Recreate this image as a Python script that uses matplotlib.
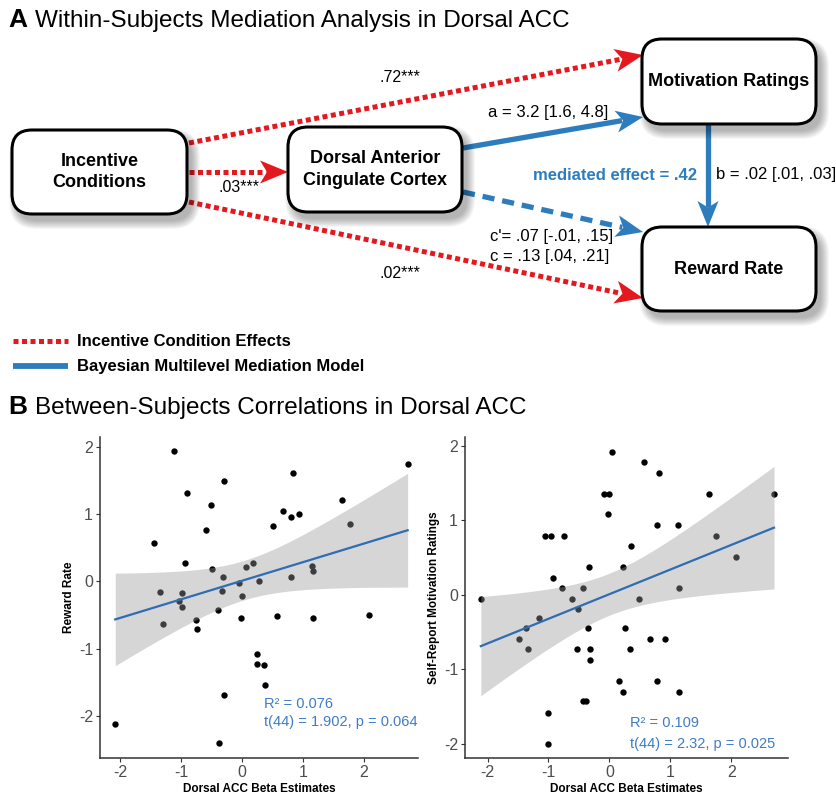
import numpy as np
import matplotlib.pyplot as plt
from matplotlib.patches import FancyBboxPatch, Polygon

plt.rcParams['font.family'] = ['Liberation Sans', 'DejaVu Sans']
plt.rcParams['axes.unicode_minus'] = False

# ---- panel B data ----
acc_left = [-1.12, 2.72, 0.84, -0.30, -0.90, -0.50, 1.64, 0.68, 0.93, 0.80,
            1.77, 0.51, -0.59, -1.44, -0.93, 0.18, 0.06, 1.15, 1.16, -0.49,
            -0.31, 0.80, -0.05, 0.28, -1.34, -0.98, -0.32, 0.00, -1.04, -0.98,
            -0.40, -1.30, -0.75, -0.73, -0.01, 0.58, 1.16, 2.09, 0.24, 0.24,
            0.36, 0.38, -0.30, -2.08, -0.37]
reward_rate = [1.94, 1.75, 1.62, 1.49, 1.31, 1.14, 1.21, 1.05, 1.00, 0.96,
               0.86, 0.83, 0.76, 0.57, 0.27, 0.28, 0.22, 0.23, 0.16, 0.19,
               0.06, 0.06, -0.03, 0.00, -0.16, -0.17, -0.15, -0.22, -0.29, -0.38,
               -0.42, -0.63, -0.58, -0.71, -0.55, -0.52, -0.55, -0.50, -1.08, -1.23,
               -1.25, -1.54, -1.69, -2.12, -2.41]

acc_right = [0.04, 0.56, 0.81, -0.09, -0.01, 1.63, 2.70, -0.03, 0.78, 1.12,
             -1.06, -0.96, -0.75, 1.75, 0.36, 2.08, -0.34, 0.22, -0.93, -0.78,
             -0.43, 1.14, -2.11, -0.61, 0.49, -0.51, -1.15, -1.37, -0.35, 0.26,
             -1.48, 0.66, 0.91, -1.33, -0.53, -0.32, 0.33, -0.32, 0.16, 0.78,
             0.22, 1.14, -0.43, -0.38, -1.01, -1.01]
motivation = [1.92, 1.78, 1.64, 1.36, 1.36, 1.36, 1.36, 1.08, 0.94, 0.94,
              0.79, 0.79, 0.79, 0.79, 0.65, 0.51, 0.37, 0.37, 0.23, 0.09,
              0.09, 0.09, -0.05, -0.05, -0.05, -0.19, -0.31, -0.45, -0.45, -0.45,
              -0.59, -0.59, -0.59, -0.73, -0.73, -0.73, -0.73, -0.87, -1.15, -1.15,
              -1.30, -1.30, -1.43, -1.43, -1.58, -2.00]

ticks = [-2, -1, 0, 1, 2]
stats_left = ['R\u00b2 = 0.076', 't(44) = 1.902, p = 0.064']
stats_right = ['R\u00b2 = 0.109', 't(44) = 2.32, p = 0.025']

RED = '#E3191F'
BLUE = '#2D7DBE'
LINE_BLUE = '#2E6DB4'
TXT_BLUE = '#3F7CC4'

fig = plt.figure(figsize=(8.36, 7.96), dpi=100)

# ---- panel A: diagram drawn in pixel coordinates ----
dia = fig.add_axes([0, 0, 1, 1])
dia.set_xlim(0, 836)
dia.set_ylim(796, 0)
dia.axis('off')


def box(x, y, w, h, label):
    for k in range(9):
        dia.add_patch(FancyBboxPatch((x + 5 - k, y + 7 - k), w + 2 * k, h + 2 * k,
                                     boxstyle='round,pad=0,rounding_size=%d' % (20 + k),
                                     fc='black', ec='none', alpha=0.035, zorder=4))
    dia.add_patch(FancyBboxPatch((x, y), w, h, boxstyle='round,pad=0,rounding_size=20',
                                 fc='white', ec='black', lw=2.2, zorder=5))
    dia.text(x + w / 2, y + h / 2, label, ha='center', va='center', fontsize=13,
             fontweight='bold', linespacing=1.35, zorder=6)


def arrow(tail, tip, color, ls, lw, length, half, notch=0.25):
    tail = np.array(tail, float)
    tip = np.array(tip, float)
    d = (tip - tail) / np.hypot(*(tip - tail))
    n = np.array([-d[1], d[0]])
    base = tip - d * length
    inner = tip - d * length * (1 - notch)
    stop = inner - d * 1.0
    dia.plot([tail[0], stop[0]], [tail[1], stop[1]], color=color, lw=lw, ls=ls,
             solid_capstyle='butt', dash_capstyle='butt', zorder=2)
    dia.add_patch(Polygon([tip, base + n * half, inner, base - n * half], closed=True,
                          fc=color, ec='none', zorder=3))


dotted = (0, (1.0, 0.7))
dashed = (0, (2.3, 1.5))

arrow((189, 143), (643, 55), RED, dotted, 3.6, 28, 11.5)
arrow((189, 172), (288, 172), RED, dotted, 3.6, 28, 11.5)
arrow((189, 202), (643, 298), RED, dotted, 3.6, 28, 11.5)
arrow((463, 148), (643, 117), BLUE, '-', 3.8, 27, 11)
arrow((463, 192), (643, 232), BLUE, dashed, 3.8, 27, 11)
arrow((708, 124), (708, 227), BLUE, '-', 3.8, 26, 10.5)

box(12, 130, 175, 84, 'Incentive\nConditions')
box(288, 127, 174, 85, 'Dorsal Anterior\nCingulate Cortex')
box(642, 39, 174, 85, 'Motivation Ratings')
box(642, 227, 174, 84, 'Reward Rate')

dia.text(400, 77, '.72***', ha='center', va='center', fontsize=11.5)
dia.text(488, 112, 'a = 3.2 [1.6, 4.8]', ha='left', va='center', fontsize=12)
dia.text(219, 187, '.03***', ha='left', va='center', fontsize=11.5)
dia.text(697, 175, 'mediated effect = .42', ha='right', va='center', fontsize=12,
         fontweight='bold', color=BLUE)
dia.text(716, 175, 'b = .02 [.01, .03]', ha='left', va='center', fontsize=12)
dia.text(490, 237, "c'= .07 [-.01, .15]", ha='left', va='center', fontsize=12)
dia.text(490, 257, 'c = .13 [.04, .21]', ha='left', va='center', fontsize=12)
dia.text(400, 274, '.02***', ha='center', va='center', fontsize=11.5)

dia.plot([13, 68], [341, 341], color=RED, lw=3.6, ls=dotted, dash_capstyle='butt')
dia.plot([13, 68], [366, 366], color=BLUE, lw=4.2, solid_capstyle='butt')
dia.text(77, 341, 'Incentive Condition Effects', ha='left', va='center', fontsize=12,
         fontweight='bold')
dia.text(77, 366, 'Bayesian Multilevel Mediation Model', ha='left', va='center',
         fontsize=12, fontweight='bold')

dia.text(8, 20, 'A', ha='left', va='center', fontsize=19, fontweight='bold')
dia.text(35, 21, 'Within-Subjects Mediation Analysis in Dorsal ACC', ha='left',
         va='center', fontsize=17.5)
dia.text(8, 407, 'B', ha='left', va='center', fontsize=19, fontweight='bold')
dia.text(35, 408, 'Between-Subjects Correlations in Dorsal ACC', ha='left',
         va='center', fontsize=17.5)


# ---- panel B: scatter plots with linear fit and 95% CI ----
def fit_band(x, y, t_crit=2.015):
    x = np.asarray(x)
    y = np.asarray(y)
    b1, b0 = np.polyfit(x, y, 1)
    xs = np.linspace(x.min(), x.max(), 100)
    n = len(x)
    s = np.sqrt(np.sum((y - (b0 + b1 * x)) ** 2) / (n - 2))
    se = s * np.sqrt(1 / n + (xs - x.mean()) ** 2 / np.sum((x - x.mean()) ** 2))
    fit = b0 + b1 * xs
    return xs, fit, fit - t_crit * se, fit + t_crit * se


def scatter_panel(rect, x, y, ylabel, xlim, ylim, stats, sx, sy):
    ax = fig.add_axes(rect)
    ax.scatter(x, y, s=21, color='black', linewidths=0, zorder=2)
    xs, fit, lo, hi = fit_band(x, y)
    ax.fill_between(xs, lo, hi, color='#999999', alpha=0.4, lw=0, zorder=3)
    ax.plot(xs, fit, color=LINE_BLUE, lw=1.6, zorder=4)
    ax.text(sx, sy[0], stats[0], color=TXT_BLUE, fontsize=10.5, va='center', zorder=5)
    ax.text(sx, sy[1], stats[1], color=TXT_BLUE, fontsize=10.5, va='center', zorder=5)
    ax.set_xlim(*xlim)
    ax.set_ylim(*ylim)
    ax.set_xticks(ticks)
    ax.set_yticks(ticks)
    for side in ['top', 'right']:
        ax.spines[side].set_visible(False)
    for side in ['left', 'bottom']:
        ax.spines[side].set_color('#333333')
        ax.spines[side].set_linewidth(1.1)
    ax.tick_params(length=3, color='#333333', labelsize=11.5, labelcolor='#4D4D4D',
                   pad=2)
    ax.set_xlabel('Dorsal ACC Beta Estimates', fontsize=8.5, fontweight='bold',
                  labelpad=2)
    ax.set_ylabel(ylabel, fontsize=8.5, fontweight='bold', labelpad=3)
    ax.set_facecolor('none')
    return ax


scatter_panel([100 / 836, 1 - 758 / 796, 318 / 836, 321 / 796], acc_left, reward_rate,
              'Reward Rate', (-2.33, 2.89), (-2.63, 2.15), stats_left, 0.36,
              (-1.83, -2.10))
scatter_panel([465 / 836, 1 - 758 / 796, 323 / 836, 321 / 796], acc_right, motivation,
              'Self-Report Motivation Ratings', (-2.37, 2.93), (-2.19, 2.12),
              stats_right, 0.33, (-1.72, -2.0))

fig.savefig('out.png', dpi=100)
